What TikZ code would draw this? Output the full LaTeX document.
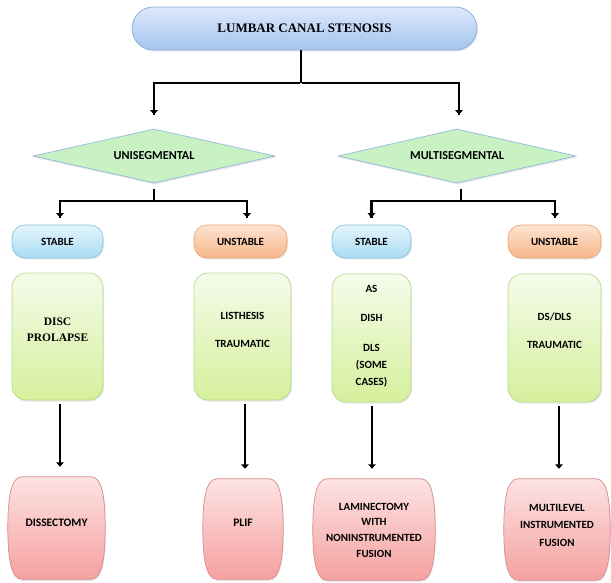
\documentclass[tikz,border=0pt]{standalone}
\usepackage{fontspec}
\usetikzlibrary{shapes.geometric,arrows.meta,calc,backgrounds,shadows}
\newfontfamily\calfont{Carlito}
\newfontfamily\tmsfont{Liberation Serif}
\definecolor{bluetop}{HTML}{DDE9FA}
\definecolor{bluebot}{HTML}{A3C4F0}
\definecolor{blueline}{HTML}{8CB0E0}
\definecolor{diagreen}{HTML}{C8F1C4}
\definecolor{diaborder}{HTML}{94B8DC}
\definecolor{stabtop}{HTML}{E4F5FD}
\definecolor{stabbot}{HTML}{A9DCF2}
\definecolor{stabline}{HTML}{86C4E0}
\definecolor{unsttop}{HTML}{FDE4D2}
\definecolor{unstbot}{HTML}{F6B688}
\definecolor{unstline}{HTML}{ECA77A}
\definecolor{greentop}{HTML}{F5FBEA}
\definecolor{greenbot}{HTML}{D5F09C}
\definecolor{greenline}{HTML}{B7D98E}
\definecolor{redtop}{HTML}{FDE3E3}
\definecolor{redbot}{HTML}{F5A0A0}
\definecolor{redline}{HTML}{D88A8A}
\newcommand\barrelshape[1]{%
  \path[redshape] ([xshift=14pt]#1.north west) -- ([xshift=-14pt]#1.north east)
   .. controls ([xshift=-3pt]#1.north east) and ([yshift=-22pt]#1.north east) .. (#1.east)
   .. controls ([yshift=22pt]#1.south east) and ([xshift=-3pt]#1.south east) .. ([xshift=-14pt]#1.south east)
   -- ([xshift=14pt]#1.south west)
   .. controls ([xshift=3pt]#1.south west) and ([yshift=22pt]#1.south west) .. (#1.west)
   .. controls ([yshift=-22pt]#1.north west) and ([xshift=3pt]#1.north west) .. cycle;}
\begin{document}
\begin{tikzpicture}[x=1pt,y=-1pt,
  cal/.style={font=\calfont\bfseries\fontsize{11}{13}\selectfont, align=center, inner sep=0pt},
  shd/.style={drop shadow={opacity=0.18,shadow xshift=0.8pt,shadow yshift=-1.6pt}},
  titlebox/.style={rectangle, rounded corners=21.5pt, minimum width=345pt, minimum height=43pt,
     top color=bluetop, bottom color=bluebot, draw=blueline, line width=0.8pt, shd,
     font=\tmsfont\bfseries\fontsize{13}{15}\selectfont},
  dia/.style={diamond, aspect=4.5, minimum width=#1, minimum height=54pt, inner sep=0pt,
     fill=diagreen, draw=diaborder, line width=0.7pt, shd, cal,
     font=\calfont\bfseries\fontsize{12.2}{14}\selectfont},
  stabbox/.style={rectangle, rounded corners=13pt, minimum width=#1, minimum height=33pt,
     top color=stabtop, bottom color=stabbot, draw=stabline, line width=0.7pt, shd, cal},
  unstbox/.style={rectangle, rounded corners=13pt, minimum width=#1, minimum height=33pt,
     top color=unsttop, bottom color=unstbot, draw=unstline, line width=0.7pt, shd, cal},
  greenbox/.style={rectangle, rounded corners=14pt, minimum width=#1, minimum height=127pt,
     top color=greentop, bottom color=greenbot, draw=greenline, line width=0.7pt, shd},
  redbase/.style={rectangle, minimum width=#1, minimum height=101pt, inner sep=0pt},
  redshape/.style={top color=redtop, bottom color=redbot, draw=redline, line width=0.7pt, shd},
  stem/.style={line width=2pt, draw=black},
  bar/.style={line width=2.8pt, draw=black},
  arr/.style={line width=2.8pt, draw=black, -{Triangle[length=4.5pt,width=7.5pt]}},
  ]
\useasboundingbox (0,0) rectangle (611,583);

% title
\node[titlebox] (title) at (304.5,28.5) {LUMBAR CANAL STENOSIS};

% diamonds
\node[dia=242pt] (uni) at (154,156) {UNISEGMENTAL};
\node[dia=238pt] (multi) at (457,156) {MULTISEGMENTAL};

% stable / unstable
\node[stabbox=91pt] (s1) at (57.5,241.5) {STABLE};
\node[unstbox=93pt] (u1) at (240.5,241.5) {UNSTABLE};
\node[stabbox=79pt] (s2) at (371.5,241.5) {STABLE};
\node[unstbox=93pt] (u2) at (554.5,241.5) {UNSTABLE};

% green boxes
\node[greenbox=91pt] (g1) at (57.5,336.5) {};
\node[greenbox=97pt] (g2) at (242.5,336.5) {};
\node[greenbox=79pt, minimum height=128pt] (g3) at (371.5,338) {};
\node[greenbox=93pt, minimum height=128pt] (g4) at (554.5,338) {};
\node[font=\tmsfont\bfseries\fontsize{11.5}{16}\selectfont, align=center, inner sep=0pt] (g1t) at (57.5,330) {DISC\\PROLAPSE};
\node[cal] (g2t) at (242.5,329.5) {LISTHESIS\\[15pt]TRAUMATIC};
\node[cal, font=\calfont\bfseries\fontsize{11}{17}\selectfont] (g3t) at (371.5,336) {AS\\[12.5pt]DISH\\[12.5pt]DLS\\(SOME\\CASES)};
\node[cal] (g4t) at (554.5,331) {DS/DLS\\[15pt]TRAUMATIC};

% red boxes
\node[redbase=97pt, minimum height=102pt] (r1) at (56.5,528) {};
\node[redbase=80pt, minimum height=100pt] (r2) at (243,529) {};
\node[redbase=122pt] (r3) at (374,529.5) {};
\node[redbase=106pt] (r4) at (557,529.5) {};
\begin{pgfonlayer}{background}
\barrelshape{r1}
\barrelshape{r2}
\barrelshape{r3}
\barrelshape{r4}
\end{pgfonlayer}
\node[cal, font=\calfont\bfseries\fontsize{11.5}{13}\selectfont] (r1t) at (56.5,523) {DISSECTOMY};
\node[cal, font=\calfont\bfseries\fontsize{11.5}{13}\selectfont] (r2t) at (243,523) {PLIF};
\node[cal, font=\calfont\bfseries\fontsize{11}{15.7}\selectfont] (r3t) at (374,530) {LAMINECTOMY\\WITH\\NONINSTRUMENTED\\FUSION};
\node[cal, font=\calfont\bfseries\fontsize{11}{17.5}\selectfont] (r4t) at (557,525) {MULTILEVEL\\INSTRUMENTED\\FUSION};

% connectors: title to diamonds
\coordinate (j0) at (301,83);
\draw[stem] (title.south -| j0) -- (j0);
\draw[bar] ($(j0)+(-1,0)$) -| ($(uni.north)+(0,-14)$);
\draw[arr] ($(uni.north)+(0,-16)$) -- ($(uni.north)+(0,-14)$);
\draw[bar] ($(j0)+(1,0)$) -| ($(multi.north)+(2,-14)$);
\draw[arr] ($(multi.north)+(2,-16)$) -- ($(multi.north)+(2,-14)$);

% diamond to stable/unstable
\coordinate (j1) at (155,201);
\coordinate (j2) at (461,201);
\draw[stem, shorten <=6pt] (uni.south) -- (uni.south |- j1);
\draw[stem, shorten <=6pt] (multi.south -| j2) -- (j2);
\draw[bar] (j1) -| ($(s1.north)+(2.5,-7)$);
\draw[arr] ($(s1.north)+(2.5,-9)$) -- ($(s1.north)+(2.5,-7)$);
\draw[bar] (j1) -| ($(u1.north)+(6.5,-7)$);
\draw[arr] ($(u1.north)+(6.5,-9)$) -- ($(u1.north)+(6.5,-7)$);
\draw[bar] (j2) -| ($(s2.north)+(0,-7)$);
\draw[arr] ($(s2.north)+(0,-9)$) -- ($(s2.north)+(0,-7)$);
\draw[bar] (j2) -| ($(u2.north)+(0.5,-7)$);
\draw[arr] ($(u2.north)+(0.5,-9)$) -- ($(u2.north)+(0.5,-7)$);

% green to red
\coordinate (a1) at ($(g1.south)+(2.5,0)$);
\coordinate (a2) at ($(g2.south)+(2.5,0)$);
\coordinate (a3) at ($(g3.south)+(0.5,0)$);
\coordinate (a4) at ($(g4.south)+(4.5,0)$);
\draw[arr, shorten <=4pt, shorten >=10pt] (a1) -- (a1 |- r1.north);
\draw[arr, shorten <=4pt, shorten >=10pt] (a2) -- (a2 |- r2.north);
\draw[arr, shorten <=4pt, shorten >=10pt] (a3) -- (a3 |- r3.north);
\draw[arr, shorten <=4pt, shorten >=10pt] (a4) -- (a4 |- r4.north);
\end{tikzpicture}
\end{document}
